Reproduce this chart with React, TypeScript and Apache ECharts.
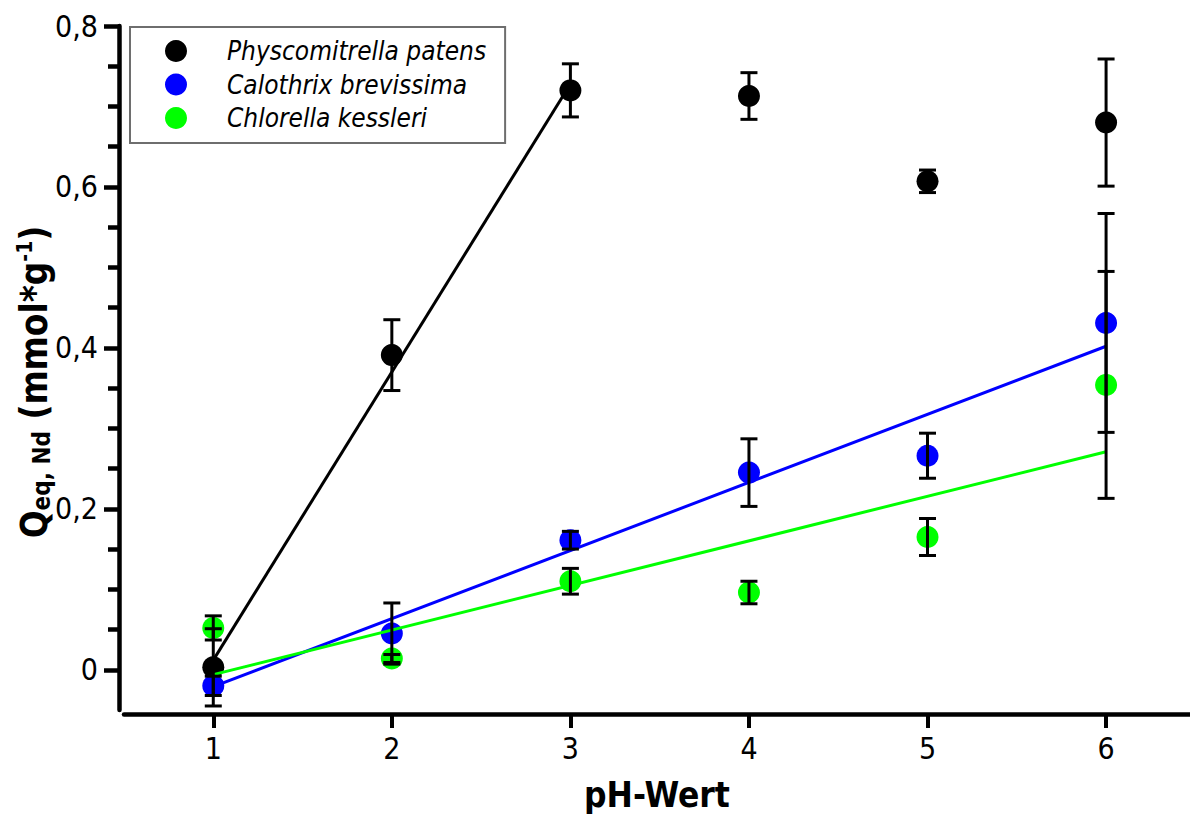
import React, { useEffect, useRef } from "react";
import * as echarts from "echarts";

// pH values on the x axis
const phValues = [1, 2, 3, 4, 5, 6];

// Species names (legend order)
const speciesNames = ["Physcomitrella patens", "Calothrix brevissima", "Chlorella kessleri"];
const speciesColors = ["#000000", "#0000ff", "#00ff00"];

// Mean Q_eq,Nd (mmol/g) per pH
const physcomitrellaMean = [0.003, 0.391, 0.72, 0.713, 0.607, 0.68];
const calothrixMean = [-0.02, 0.045, 0.161, 0.245, 0.266, 0.431];
const chlorellaMean = [0.052, 0.014, 0.11, 0.096, 0.165, 0.354];

// Standard deviations per pH
const physcomitrellaSd = [0.048, 0.044, 0.033, 0.029, 0.014, 0.079];
const calothrixSd = [0.012, 0.038, 0.011, 0.042, 0.028, 0.136];
const chlorellaSd = [0.015, 0.005, 0.016, 0.014, 0.023, 0.141];

// Linear fits: [x, y] at the two ends of each fitted range
const physcomitrellaFit = [[1, 0.012], [3, 0.728]];
const calothrixFit = [[1, -0.021], [6, 0.402]];
const chlorellaFit = [[1, -0.006], [6, 0.271]];

// Axis ticks
const yMajorTicks = [0, 0.2, 0.4, 0.6, 0.8];
const yMinorTicks = [0.05, 0.1, 0.15, 0.25, 0.3, 0.35, 0.45, 0.5, 0.55, 0.65, 0.7, 0.75];

const FONT = "'DejaVu Sans Condensed', 'DejaVu Sans', sans-serif";

const means = [physcomitrellaMean, calothrixMean, chlorellaMean];
const sds = [physcomitrellaSd, calothrixSd, chlorellaSd];
const fits = [physcomitrellaFit, calothrixFit, chlorellaFit];

function errorBarRenderer(params: any, api: any) {
  const x = api.value(0);
  const lo = api.coord([x, api.value(1)]);
  const hi = api.coord([x, api.value(2)]);
  const half = 8.5;
  const style = { stroke: "#000", lineWidth: 3 };
  return {
    type: "group",
    children: [
      { type: "line", shape: { x1: hi[0], y1: hi[1], x2: lo[0], y2: lo[1] }, style },
      { type: "line", shape: { x1: hi[0] - half, y1: hi[1], x2: hi[0] + half, y2: hi[1] }, style },
      { type: "line", shape: { x1: lo[0] - half, y1: lo[1], x2: lo[0] + half, y2: lo[1] }, style },
    ],
  };
}

function decimalComma(v: number) {
  return v === 0 ? "0" : v.toFixed(1).replace(".", ",");
}

export default function App() {
  const ref = useRef<HTMLDivElement>(null);

  useEffect(() => {
    if (!ref.current) return;
    const chart = echarts.init(ref.current, null, { renderer: "svg" });

    const series: any[] = [];
    speciesNames.forEach((name, i) => {
      series.push({
        name,
        type: "scatter",
        data: phValues.map((x, j) => [x, means[i][j]]),
        symbol: "circle",
        symbolSize: 22,
        itemStyle: { color: speciesColors[i], opacity: 1 },
        z: 2,
      });
    });
    speciesNames.forEach((name, i) => {
      series.push({
        name: name + " fit",
        type: "line",
        data: fits[i],
        showSymbol: false,
        symbol: "none",
        lineStyle: { color: speciesColors[i], width: 3 },
        z: 3,
      });
    });
    speciesNames.forEach((name, i) => {
      series.push({
        name: name + " sd",
        type: "custom",
        renderItem: errorBarRenderer,
        data: phValues.map((x, j) => [x, means[i][j] - sds[i][j], means[i][j] + sds[i][j]]),
        encode: { x: 0, y: [1, 2] },
        z: 4,
      });
    });

    chart.setOption({
      animation: false,
      backgroundColor: "#ffffff",
      textStyle: { fontFamily: FONT },
      grid: { left: 124, right: 0, top: 26, bottom: 96, containLabel: false },
      legend: {
        data: speciesNames,
        orient: "vertical",
        left: 130,
        top: 27,
        padding: [11, 19, 12, 35],
        itemWidth: 22,
        itemHeight: 22,
        itemGap: 7.5,
        icon: "circle",
        borderColor: "#6e6e6e",
        borderWidth: 2,
        selectedMode: false,
        itemStyle: { opacity: 1 },
        textStyle: {
          fontSize: 26,
          fontStyle: "italic",
          color: "#000",
          fontFamily: FONT,
          padding: [0, 0, 0, 35],
        },
      },
      xAxis: {
        type: "value",
        min: 0.5,
        max: 6.47,
        offset: 4,
        splitLine: { show: false },
        axisLine: { show: true, onZero: false, lineStyle: { color: "#000", width: 4.5 } },
        axisTick: { show: true, customValues: phValues, length: 14, lineStyle: { color: "#000", width: 4 } },
        axisLabel: { customValues: phValues, fontSize: 30, color: "#000", margin: 19, fontFamily: FONT },
        name: "pH-Wert",
        nameLocation: "middle",
        nameGap: 63,
        nameMoveOverlap: false,
        nameTextStyle: { fontSize: 35, fontWeight: "bold", color: "#000", fontFamily: FONT },
      },
      yAxis: [
        {
          type: "value",
          min: -0.05,
          max: 0.8,
          offset: 5,
          position: "left",
          splitLine: { show: false },
          axisLine: { show: true, onZero: false, lineStyle: { color: "#000", width: 4.5 } },
          axisTick: { show: true, customValues: yMajorTicks, length: 15, lineStyle: { color: "#000", width: 4.5 } },
          axisLabel: {
            customValues: yMajorTicks,
            fontSize: 30,
            color: "#000",
            margin: 21,
            formatter: decimalComma,
            fontFamily: FONT,
          },
          name: "{b|Q}{s|eq, Nd}{b| (mmol*g}{p|-1}{b|)}",
          nameLocation: "middle",
          nameRotate: 90,
          nameGap: 65,
          nameMoveOverlap: false,
          nameTextStyle: {
            color: "#000",
            fontFamily: FONT,
            padding: [0, 28, 0, 0],
            rich: {
              b: { fontSize: 36.5, fontWeight: "bold", color: "#000", fontFamily: FONT, lineHeight: 40 },
              s: { fontSize: 24, fontWeight: "bold", color: "#000", fontFamily: FONT, verticalAlign: "bottom", lineHeight: 40 },
              p: { fontSize: 21, fontWeight: "bold", color: "#000", fontFamily: FONT, verticalAlign: "top", lineHeight: 22 },
            },
          },
        },
        {
          type: "value",
          min: -0.05,
          max: 0.8,
          offset: 5,
          position: "left",
          splitLine: { show: false },
          axisLine: { show: false },
          axisTick: { show: true, customValues: yMinorTicks, length: 11, lineStyle: { color: "#000", width: 4.5 } },
          axisLabel: { show: false },
        },
      ],
      series,
    });

    return () => chart.dispose();
  }, []);

  return (
    <div
      ref={ref}
      style={{ position: "absolute", left: 0, top: 0, width: 1190, height: 817 }}
    />
  );
}
